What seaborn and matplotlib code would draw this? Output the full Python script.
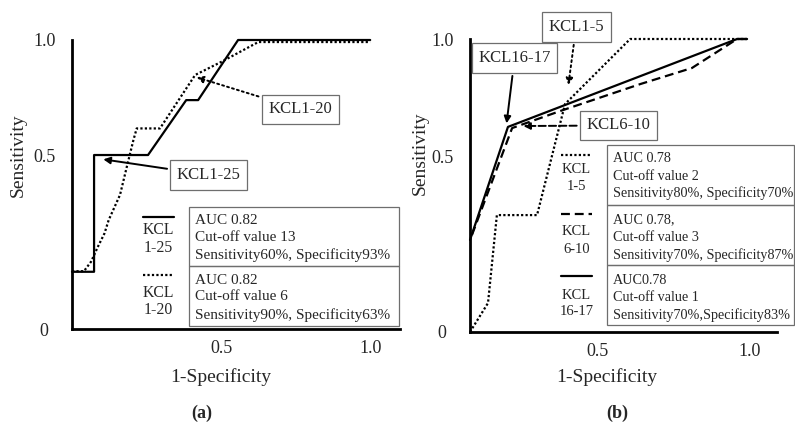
import matplotlib
matplotlib.use("Agg")
import matplotlib.pyplot as plt
import seaborn as sns
from matplotlib.patches import Rectangle

# ROC curves, panel (a)
a_kcl125_x = [0, 0.074, 0.074, 0.255, 0.383, 0.423, 0.557, 1.0]
a_kcl125_y = [0.198, 0.198, 0.602, 0.602, 0.792, 0.792, 1.0, 1.0]
a_kcl120_x = [0, 0.04, 0.064, 0.087, 0.109, 0.123, 0.161, 0.184, 0.206, 0.217, 0.295, 0.413, 0.502, 0.625, 1.0]
a_kcl120_y = [0.2, 0.2, 0.233, 0.285, 0.331, 0.377, 0.464, 0.562, 0.654, 0.694, 0.694, 0.879, 0.925, 0.993, 0.993]

# ROC curves, panel (b)
b_kcl15_x = [0, 0.065, 0.097, 0.242, 0.343, 0.578, 1.0]
b_kcl15_y = [0, 0.099, 0.399, 0.399, 0.778, 1.0, 1.0]
b_kcl610_x = [0.007, 0.152, 0.325, 0.614, 0.801, 0.964, 1.0]
b_kcl610_y = [0.331, 0.696, 0.754, 0.846, 0.901, 1.0, 1.0]
b_kcl1617_x = [0, 0.137, 0.964, 1.0]
b_kcl1617_y = [0.314, 0.70, 1.0, 1.0]

a_legend = [("KCL\n1-25", ["AUC 0.82", "Cut-off value 13", "Sensitivity60%, Specificity93%"]),
            ("KCL\n1-20", ["AUC 0.82", "Cut-off value 6", "Sensitivity90%, Specificity63%"])]
b_legend = [("KCL\n1-5", ["AUC 0.78", "Cut-off value 2", "Sensitivity80%, Specificity70%"]),
            ("KCL\n6-10", ["AUC 0.78,", "Cut-off value 3", "Sensitivity70%, Specificity87%"]),
            ("KCL\n16-17", ["AUC0.78", "Cut-off value 1", "Sensitivity70%,Specificity83%"])]

sns.set_style("white")
plt.rcParams["font.family"] = ["Liberation Serif", "DejaVu Serif"]

SOLID = "-"
DOT = (0, (1, 1))
DASH = (0, (4, 2.2))
LW = 1.6
BOXC = "#6e6e6e"

W, H = 795, 422
fig = plt.figure(figsize=(W / 100, H / 100), dpi=100)
ax_a = fig.add_axes([72 / W, (H - 329) / H, 328 / W, 289 / H])
ax_b = fig.add_axes([470 / W, (H - 332) / H, 307 / W, 293 / H])


def style_axis(ax, xmax, xticks, xlab, ylab_pos, xlab_pos):
    ax.set_xlim(0, xmax)
    ax.set_ylim(0, 1.0)
    for s in ["top", "right"]:
        ax.spines[s].set_visible(False)
    for s in ["left", "bottom"]:
        ax.spines[s].set_linewidth(2)
        ax.spines[s].set_color("black")
    # the source prints its "0.5" label at the 0.6 level
    ax.set_yticks([0, 0.6, 1.0], ["0", "0.5", "1.0"])
    ax.set_xticks(xticks, xlab)
    ax.tick_params(axis="y", length=0, pad=20, labelsize=13)
    ax.tick_params(axis="x", length=0, pad=8, labelsize=13)
    for t in ax.get_yticklabels():
        t.set_horizontalalignment("center")
    ax.set_ylabel("Sensitivity", fontsize=14)
    ax.set_xlabel("1-Specificity", fontsize=14)
    ax.yaxis.label.set_va("center")
    ax.xaxis.label.set_va("center")
    ax.yaxis.set_label_coords(*ylab_pos)
    ax.xaxis.set_label_coords(*xlab_pos)


def curve(ax, x, y, ls):
    sns.lineplot(x=x, y=y, ax=ax, color="black", linestyle=ls, linewidth=LW,
                 sort=False, estimator=None, clip_on=False)


def callout(ax, text, xy, xytext, ls):
    ax.annotate(text, xy=xy, xytext=xytext, ha="center", va="center", fontsize=12,
                annotation_clip=False,
                bbox=dict(boxstyle="square,pad=0.4", fc="white", ec=BOXC, lw=0.9),
                arrowprops=dict(arrowstyle="-|>", color="black", lw=1.4, linestyle=ls,
                                mutation_scale=10, shrinkB=0))


def info_boxes(ax, legend, styles, x0, x1, ys, textx, texty, samp_x, samp_y, kcl_y, fs):
    for i, (lab, lines) in enumerate(legend):
        ax.add_patch(Rectangle((x0, ys[i + 1]), x1 - x0, ys[i] - ys[i + 1], fill=False,
                               ec=BOXC, lw=0.9, clip_on=False))
        for j, line in enumerate(lines):
            ax.text(textx, texty[i][j], line, fontsize=fs, va="center", ha="left")
        ax.plot(samp_x, [samp_y[i]] * 2, color="black", linestyle=styles[i], lw=LW,
                clip_on=False)
        cx = sum(samp_x) / 2
        for k, part in enumerate(lab.split("\n")):
            ax.text(cx, kcl_y[i][k], part, fontsize=fs + 0.3, ha="center", va="center")


# panel (a)
curve(ax_a, a_kcl125_x, a_kcl125_y, SOLID)
curve(ax_a, a_kcl120_x, a_kcl120_y, DOT)
style_axis(ax_a, 1.10, [0.5, 1.0], ["0.5", "1.0"], (-0.165, 0.60), (0.454, -0.166))
callout(ax_a, "KCL1-20", (0.418, 0.871), (0.765, 0.760), ":")
callout(ax_a, "KCL1-25", (0.105, 0.587), (0.459, 0.533), "-")
info_boxes(ax_a, a_legend, [SOLID, DOT], 0.393, 1.095, [0.421, 0.219, 0.010], 0.413,
           [[0.377, 0.317, 0.256], [0.167, 0.111, 0.048]],
           [0.239, 0.342], [0.386, 0.187], [[0.343, 0.279], [0.124, 0.066]], 11)

# panel (b)
curve(ax_b, b_kcl15_x, b_kcl15_y, DOT)
curve(ax_b, b_kcl610_x, b_kcl610_y, DASH)
curve(ax_b, b_kcl1617_x, b_kcl1617_y, SOLID)
style_axis(ax_b, 1.108, [0.46, 1.01], ["0.5", "1.0"], (-0.163, 0.611), (0.446, -0.154))
callout(ax_b, "KCL1-5", (0.355, 0.843), (0.383, 1.041), ":")
callout(ax_b, "KCL16-17", (0.132, 0.712), (0.161, 0.935), "-")
callout(ax_b, "KCL6-10", (0.192, 0.703), (0.536, 0.705), "--")
info_boxes(ax_b, b_legend, [DOT, DASH, SOLID], 0.496, 1.170, [0.638, 0.433, 0.229, 0.024], 0.517,
           [[0.593, 0.530, 0.473], [0.382, 0.323, 0.263], [0.177, 0.117, 0.058]],
           [0.329, 0.439], [0.604, 0.403, 0.191],
           [[0.555, 0.496], [0.342, 0.282], [0.126, 0.069]], 10.2)

fig.text(202 / W, 1 - 413 / H, "(a)", fontsize=13, fontweight="bold", ha="center", va="center")
fig.text(617 / W, 1 - 413 / H, "(b)", fontsize=13, fontweight="bold", ha="center", va="center")

fig.savefig("out.png", dpi=100, facecolor="white")
